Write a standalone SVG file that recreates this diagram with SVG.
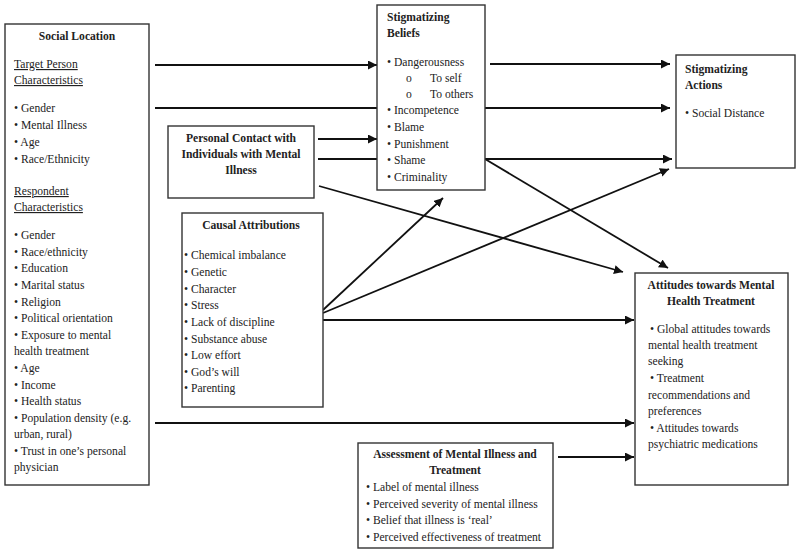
<svg xmlns="http://www.w3.org/2000/svg" width="800" height="554" viewBox="0 0 800 554">
<style>
.box{fill:#fff;stroke:#333;stroke-width:1.4}
.t{font-family:"Liberation Serif","Times New Roman",serif;font-size:11.6px;fill:#222}
.b{font-weight:bold}
.u{text-decoration:underline}
.c{text-anchor:middle}
.ln{stroke:#111;stroke-width:1.8;fill:none;marker-end:url(#ah)}
</style>
<defs>
<marker id="ah" viewBox="0 0 10 10" refX="10" refY="5" markerWidth="5" markerHeight="5" markerUnits="strokeWidth" orient="auto">
<path d="M0,0 L10,5 L0,10 Z" fill="#111"/>
</marker>
</defs>
<rect width="800" height="554" fill="#fff"/>
<g id="connectors">
<line class="ln" x1="155" y1="65" x2="377" y2="65"/>
<line class="ln" x1="155" y1="108" x2="670" y2="108"/>
<line class="ln" x1="490" y1="64" x2="670" y2="64"/>
<line class="ln" x1="318" y1="139" x2="377" y2="139"/>
<line class="ln" x1="318" y1="159" x2="672" y2="159"/>
<line class="ln" x1="319" y1="186" x2="623" y2="272"/>
<line class="ln" x1="485" y1="159" x2="668" y2="268"/>
<line class="ln" x1="323" y1="310" x2="443" y2="198"/>
<line class="ln" x1="323" y1="313" x2="669" y2="169"/>
<line class="ln" x1="323" y1="320" x2="634" y2="320"/>
<line class="ln" x1="155" y1="423" x2="634" y2="423"/>
<line class="ln" x1="558" y1="457" x2="634" y2="457"/>
</g>
<g id="social-location">
<rect class="box" x="5" y="24" width="144" height="461"/>
<text class="t b c" x="77" y="40">Social Location</text>
<text class="t u" x="14" y="68">Target Person</text>
<text class="t u" x="14" y="84">Characteristics</text>
<text class="t" x="14" y="112">• Gender</text>
<text class="t" x="14" y="129">• Mental Illness</text>
<text class="t" x="14" y="146">• Age</text>
<text class="t" x="14" y="163">• Race/Ethnicity</text>
<text class="t u" x="14" y="195">Respondent</text>
<text class="t u" x="14" y="211">Characteristics</text>
<text class="t" x="14" y="239">• Gender</text>
<text class="t" x="14" y="256">• Race/ethnicity</text>
<text class="t" x="14" y="272">• Education</text>
<text class="t" x="14" y="289">• Marital status</text>
<text class="t" x="14" y="306">• Religion</text>
<text class="t" x="14" y="322">• Political orientation</text>
<text class="t" x="14" y="339">• Exposure to mental</text>
<text class="t" x="14" y="355">health treatment</text>
<text class="t" x="14" y="372">• Age</text>
<text class="t" x="14" y="389">• Income</text>
<text class="t" x="14" y="405">• Health status</text>
<text class="t" x="14" y="422">• Population density (e.g.</text>
<text class="t" x="14" y="438">urban, rural)</text>
<text class="t" x="14" y="455">• Trust in one’s personal</text>
<text class="t" x="14" y="471">physician</text>
</g>
<g id="stigmatizing-beliefs">
<rect class="box" x="377" y="5" width="108" height="185"/>
<text class="t b" x="387" y="21">Stigmatizing</text>
<text class="t b" x="387" y="37">Beliefs</text>
<text class="t" x="387" y="66">• Dangerousness</text>
<text class="t" x="406" y="82">o</text>
<text class="t" x="430" y="82">To self</text>
<text class="t" x="406" y="98">o</text>
<text class="t" x="430" y="98">To others</text>
<text class="t" x="387" y="114">• Incompetence</text>
<text class="t" x="387" y="131">• Blame</text>
<text class="t" x="387" y="148">• Punishment</text>
<text class="t" x="387" y="164">• Shame</text>
<text class="t" x="387" y="181">• Criminality</text>
</g>
<g id="stigmatizing-actions">
<rect class="box" x="676" y="55" width="119" height="113"/>
<text class="t b" x="685" y="73">Stigmatizing</text>
<text class="t b" x="685" y="89">Actions</text>
<text class="t" x="685" y="117">• Social Distance</text>
</g>
<g id="personal-contact">
<rect class="box" x="168" y="126" width="146" height="72"/>
<text class="t b c" x="241" y="142">Personal Contact with</text>
<text class="t b c" x="241" y="158">Individuals with Mental</text>
<text class="t b c" x="241" y="174">Illness</text>
</g>
<g id="causal-attributions">
<rect class="box" x="182" y="213" width="141" height="194"/>
<text class="t b c" x="251" y="229">Causal Attributions</text>
<text class="t" x="184" y="259">• Chemical imbalance</text>
<text class="t" x="184" y="276">• Genetic</text>
<text class="t" x="184" y="293">•  Character</text>
<text class="t" x="184" y="309">• Stress</text>
<text class="t" x="184" y="326">• Lack of discipline</text>
<text class="t" x="184" y="343">• Substance abuse</text>
<text class="t" x="184" y="359">• Low effort</text>
<text class="t" x="184" y="376">• God’s will</text>
<text class="t" x="184" y="392">• Parenting</text>
</g>
<g id="attitudes">
<rect class="box" x="635" y="273" width="153" height="212"/>
<text class="t b c" x="711" y="289">Attitudes towards Mental</text>
<text class="t b c" x="711" y="305">Health Treatment</text>
<text class="t" x="650" y="333">• Global attitudes towards</text>
<text class="t" x="648" y="349">mental health treatment</text>
<text class="t" x="648" y="365">seeking</text>
<text class="t" x="650" y="382">• Treatment</text>
<text class="t" x="648" y="399">recommendations and</text>
<text class="t" x="648" y="415">preferences</text>
<text class="t" x="650" y="432">• Attitudes towards</text>
<text class="t" x="648" y="448">psychiatric medications</text>
</g>
<g id="assessment">
<rect class="box" x="358" y="443" width="195" height="105"/>
<text class="t b c" x="455" y="458">Assessment of Mental Illness and</text>
<text class="t b c" x="455" y="474">Treatment</text>
<text class="t" x="366" y="491">• Label of mental illness</text>
<text class="t" x="366" y="508">• Perceived severity of mental illness</text>
<text class="t" x="366" y="524">• Belief that illness is ‘real’</text>
<text class="t" x="366" y="541">• Perceived effectiveness of treatment</text>
</g>
</svg>
